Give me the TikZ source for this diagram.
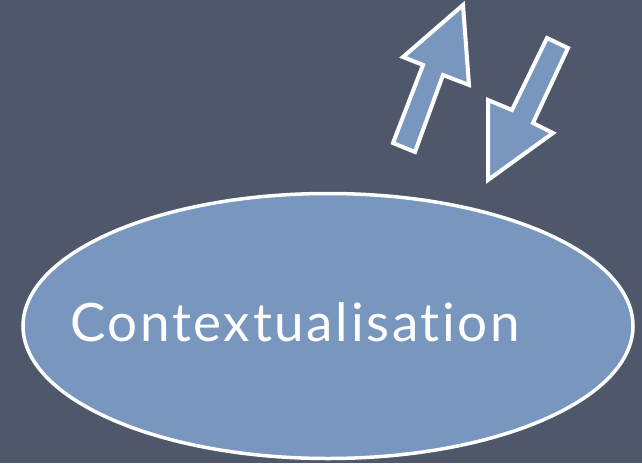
\documentclass[tikz,border=0pt]{standalone}
\usepackage{fontspec}
\setmainfont{Lato}[Ligatures={NoCommon,NoRequired,NoContextual}, LetterSpace=5]
\usetikzlibrary{shapes.geometric}
\definecolor{slate}{RGB}{78,88,106}
\definecolor{paleblue}{RGB}{121,150,190}

\begin{document}
\begin{tikzpicture}[x=1pt, y=-1pt,
		bubble/.style={ellipse, draw=white, line width=3.5pt, fill=paleblue, inner sep=0pt},
		arrowbox/.style={draw=white, line width=4pt, fill=paleblue, line join=miter},
		caption/.style={text=white, font=\fontsize{53}{60}\selectfont, anchor=base, inner sep=0pt},
	]

	\fill[slate] (0,0) rectangle (642,463);
	\useasboundingbox (0,0) rectangle (642,463);

	\node[bubble, minimum width=610pt, minimum height=265pt] (ctx) at (328,326) {};
	\node[caption] (ctx-label) at (295,341) {Contextualisation};

	% up and down arrows
	\draw[arrowbox] (393,143) -- (423,65) -- (403,57) -- (463,5) -- (469,85) -- (443,75) -- (415,152) -- cycle;
	\draw[arrowbox] (547,38) -- (568,48) -- (533,123) -- (553,133) -- (488,180) -- (488,100) -- (512,110) -- cycle;

\end{tikzpicture}
\end{document}
